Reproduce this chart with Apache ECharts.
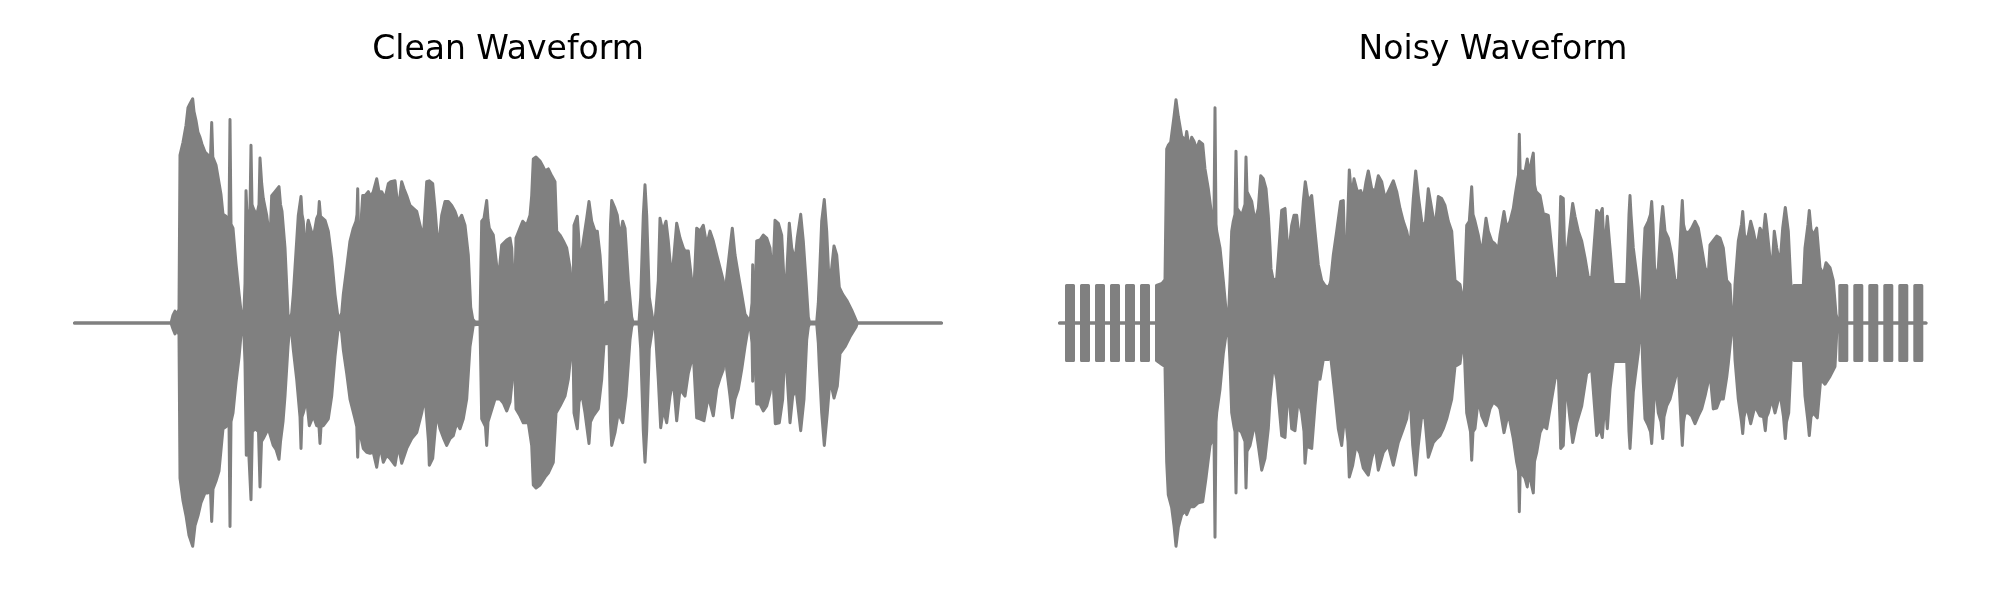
<!DOCTYPE html>
<html><head><meta charset="utf-8">
<script src="https://cdn.jsdelivr.net/npm/echarts@6/dist/echarts.min.js"></script>
<style>html,body{margin:0;padding:0;background:#fff}#c{width:2000px;height:600px}</style>
</head><body><div id="c"></div>
<script>
// Panel titles
const titles = ["Clean Waveform", "Noisy Waveform"];

// Envelope of the clean waveform: [time, amplitude] (upper and lower edges)
const cleanUpper = [[1.5,0],[98,0],[100,8],[102,12],[104,8],[106,14],[107,170],[110,183],[113,200],[115,218],[117,222],[119.7,227],[121,214],[123,205],[125,193],[127,188],[129,181],[132,173],[135,170],[137.5,168],[138.7,203],[139.8,168],[141,168],[143,160],[145,159],[148,130],[150,110],[153,108],[156,104],[157,206],[158,100],[160,96],[163,60],[166,30],[168.7,6],[170.5,1],
[172,40],[173,134],[174,110],[175.3,109],[177,115],[178,180],[179,120],[180.3,116],[183.7,109],[186,120],[187,167],[188.7,141],[190.3,126],[193.7,109],[197,83],[198.7,129],[202,133],[206,138],[207.5,120],[209,113],[212,76],[215,9],[217,1],
[218.7,10],[220.3,29],[222,56],[225.3,109],[227,110],[228,128],[229,110],[230.3,103],[233,63],[234.5,100],[235.3,104],[237,106],[240.3,86],[243.7,106],[245.5,110],[246.3,123],[247.5,108],[248.7,106],[252,104],[255.3,93],[258.7,66],[262,29],[265.3,3],[266.5,1],
[268.7,10],[270.3,29],[273.7,56],[277,83],[280.3,96],[283,103],[284,110],[284.7,136],[285.5,95],[287,43],[288.5,110],[289.7,129],[292,129],[295.3,133],[297.7,128],[300.3,133],[303.7,146],[306,133],[308.7,133],[312,126],[315.3,141],[317.7,143],[322,144],[325.3,114],[328.7,143],[331,136],[333.7,129],[337,119],[340.3,116],[343.7,113],[347,99],[350.3,86],[353.7,143],[356.3,144],[359.7,141],[362,116],[365.3,73],[368.7,109],[372,123],[375.3,123],[378.7,119],[382,113],[385.3,103],[388.7,109],[392,99],[395.3,69],[397.7,16],[399.7,4],[402,1],[407,1],
[408.7,103],[411,106],[413.7,124],[415,105],[416.3,96],[420.3,89],[425.3,43],[428.7,79],[433.7,84],[437,86],[438.7,76],[440.3,40],[441,20],[442,40],[443,86],[447,96],[449.7,103],[453.7,99],[457,109],[458.7,129],[460.3,166],[463,168],[467,164],[469.7,159],[472,154],[475.3,156],[478.7,149],[482,143],[483.7,93],[487,89],[490.3,83],[493.7,76],[497,56],[498.7,29],[499.7,2],
[501,99],[503,100],[504.3,108],[505.5,90],[507,59],[510.3,83],[513.7,106],[516,123],[518.7,103],[522,93],[524.3,93],[527,69],[529.7,29],[531,6],[533.7,21],[536,15],
[537.5,100],[538.7,124],[542,116],[544.3,109],[547,86],[549.7,103],[552,96],[555.3,43],[558.7,6],[560,1],[566,1],
[567.7,26],[570.3,109],[572,140],[573.7,109],[576.3,26],[579.7,4],[582,1],
[585.3,43],[587,106],[589.7,93],[593,103],[595.3,83],[598.7,43],[601,69],[603.7,101],[607,86],[610.3,76],[612,73],[615.3,73],[618.7,43],[621,36],[623.7,96],[627,93],[630.3,99],[633.7,79],[637,93],[640.3,83],[643.7,69],[647,56],[650.3,43],[652,20],[653.7,46],[657,76],[659.3,96],[662,69],[665.3,49],[668.7,29],[672,9],[675.3,4],[677,1],
[679,20],[679.7,59],[680.5,20],[682,10],
[683,60],[683.7,83],[687,84],[690.3,89],[693.7,86],[697,76],[699.7,43],[702,104],[705.3,101],[708.7,89],[711,43],[712,40],[713.7,49],[716.3,101],[718.7,76],[722,63],[724.3,86],[727.7,110],[730.3,83],[733,43],[735.3,6],[736.5,1],[743.7,1],
[745.3,20],[746.3,43],[748.7,103],[751.3,125],[753.7,93],[756.3,36],[758.7,56],[761,78],[763.7,69],[766.3,36],[769.7,29],[773.7,23],[778.7,13],[783,3],[784.3,0],[868.5,0]];

const cleanLower = [[1.5,0],[98,0],[100,-6],[102,-11],[104,-6],[106,-12],[107,-157],[110,-180],[113,-195],[116,-215],[119.7,-226],[122,-205],[125,-195],[128,-182],[132,-172],[135,-172],[137.5,-170],[138.7,-201],[140,-168],[143,-160],[146,-150],[150,-107],[153,-105],[156,-100],[157,-206],[158,-100],[160,-91],[163,-60],[166,-35],[168.7,-4],[170.5,-1],
[172,-40],[173.3,-134],[174.5,-105],[176,-105],[178,-179],[179.3,-110],[182,-107],[185.5,-110],[187,-166],[188.5,-120],[190.3,-117],[195.3,-107],[200.3,-124],[203,-128],[206,-138],[207.5,-120],[210,-100],[212,-74],[215,-24],[217,-1],
[218.7,-10],[220.3,-27],[223.7,-57],[227,-95],[228,-127],[229,-95],[230.3,-91],[233.7,-77],[236.3,-104],[240.3,-94],[243.7,-104],[246,-105],[247,-122],[248,-105],[250.3,-104],[255.3,-97],[258.7,-74],[262,-34],[265.3,-4],[266.5,-1],
[268.7,-10],[270.3,-27],[273.7,-51],[277,-77],[282,-97],[283.8,-105],[284.7,-136],[285.6,-105],[287,-104],[290.3,-127],[293.7,-131],[297,-132],[300.3,-131],[303.7,-146],[307,-124],[310.3,-141],[313.7,-134],[317,-137],[322,-144],[325.3,-124],[328.7,-142],[333.7,-127],[338.7,-117],[343.7,-111],[348.7,-91],[352,-74],[355.5,-120],[356.3,-144],[359.7,-137],[363.7,-91],[367,-107],[370.3,-116],[373.7,-124],[377,-117],[380.3,-114],[383.7,-101],[387,-107],[390.3,-97],[393.7,-77],[397,-24],[400.3,-2],[407,-1],
[408.7,-97],[412.5,-105],[413.7,-124],[415,-100],[417,-101],[422,-77],[427,-77],[430.3,-81],[433.7,-89],[437,-80],[439,-60],[440.3,-24],[441.5,-40],[443,-87],[447,-94],[450.3,-101],[455.3,-101],[458.7,-124],[460.3,-164],[463,-167],[467,-164],[472,-156],[475.3,-152],[480.3,-141],[483,-91],[487,-84],[492,-74],[495.3,-57],[498.7,-24],[499.7,-2],
[501,-91],[504.3,-107],[506,-80],[508.7,-71],[512,-91],[516,-122],[517.5,-100],[520.3,-94],[525.3,-87],[528.7,-57],[531,-21],[533.7,-21],[536,-15],
[537.5,-100],[538.7,-124],[542,-111],[545.3,-91],[549.7,-101],[553,-74],[557,-17],[558.7,-4],[560,-1],[566,-1],
[567.7,-26],[570.3,-109],[572,-141],[573.7,-109],[576.3,-26],[579.7,-4],[582,-1],
[585.3,-57],[587.7,-106],[590.3,-87],[593.7,-101],[597,-74],[600.3,-57],[603.7,-99],[607,-67],[612,-74],[615.3,-51],[620.3,-31],[623.7,-96],[627,-97],[631,-99],[635.3,-74],[640.3,-94],[643.7,-67],[647,-56],[650.3,-47],[652,-20],[653.7,-47],[657,-74],[659.3,-96],[662,-77],[665.3,-67],[668.7,-47],[672,-24],[675.3,-4],[677,-1],
[679,-20],[679.7,-59],[680.5,-20],[682,-10],
[683,-60],[683.7,-82],[687,-82],[690.3,-89],[693.7,-84],[697,-71],[699.7,-51],[702.3,-102],[706.3,-101],[709.7,-77],[712,-24],[713.7,-47],[717,-101],[719.7,-74],[723,-67],[727.7,-109],[731,-77],[733.7,-17],[735.3,-4],[736.5,-1],[743.7,-1],
[745.3,-20],[746.3,-44],[748.7,-91],[751.3,-124],[754.3,-91],[757,-57],[761,-76],[764.3,-64],[767,-31],[772,-24],[777,-14],[783,-4],[784.3,0],[868.5,0]];

// Envelope of the noisy waveform (periodic noise bursts at both ends)
const noisyUpper = [[1.5,0],[8.5,0],[8.5,38],[15.5,38],[15.5,0],[23.5,0],[23.5,38],[30.5,38],[30.5,0],[38.5,0],[38.5,38],[45.5,38],[45.5,0],[53.5,0],[53.5,38],[60.5,38],[60.5,0],[68.5,0],[68.5,38],[75.5,38],[75.5,0],[83.5,0],[83.5,38],[90.5,38],[90.5,0],[98.5,0],[98.5,38],[104,40],[107,44],[108,46],[108.7,176],[110.3,180],[112.7,183],[116,209],[118,226],[120.3,209],[123.7,189],[127.5,185],[128.7,194],[130,185],[131.3,176],[133.7,188],[136,184],[138.7,176],[141.3,184],[144.7,181],[147,156],[150.3,136],[153.7,109],[156,110],[157,218],[158,100],[158.7,93],[162,76],[165.3,43],[168.7,6],[170.3,2],
[172,43],[173.7,93],[175.3,103],[177,110],[178,174],[179,116],[180.3,116],[183.7,109],[187,120],[188,168],[189,133],[190.3,133],[193.7,123],[197,103],[200.3,116],[202.7,149],[205.3,146],[208,136],[210.3,109],[212,78],[213,55],[215.3,43],[218.7,45],[220.3,66],[223.7,114],[227,116],[230.3,66],[233.7,99],[236,109],[238.7,109],[242,79],[245.3,123],[247.3,143],[250.3,123],[253.7,129],[257,93],[260.3,59],[263.7,43],[267,38],[270.3,36],[272,40],[272.7,43],[275.3,69],[278.7,93],[282.7,123],[285.3,124],[287,60],[288,36],[289.5,100],[291.3,155],[293.7,126],[296,146],[299.3,133],[302.7,134],[305.3,126],[308,143],[310.3,154],[313.7,136],[317,133],[320.3,149],[323.7,143],[327,126],[330.3,133],[335.3,144],[338.7,133],[342,116],[345.3,103],[348.7,93],[352,76],[355.3,126],[357.7,154],[360.3,129],[363.7,103],[367,96],[370.3,136],[373.7,116],[377,96],[380.3,128],[383.7,126],[387,119],[390.3,103],[393.7,93],[397,43],[402,39],[404.3,26],[405.3,2],[407,2],
[408.7,99],[411.3,103],[413.7,138],[415,110],[417,103],[420.3,89],[423.7,69],[425.3,69],[428,106],[430.3,93],[433.7,83],[437,80],[440.3,75],[442,89],[446,113],[448.7,96],[452,103],[455.3,116],[457,128],[459.3,143],[460.5,150],[461.3,191],[462.2,150],[463.7,154],[467,153],[469.3,166],[470.5,150],[472,151],[475.3,172],[476.5,140],[478,133],[482,129],[485.3,111],[490.3,109],[493.7,76],[497,46],[500.3,43],[502,100],[502.7,128],[505.3,126],[507,56],[510.3,83],[514.7,121],[517,108],[520.3,93],[523.7,83],[527,66],[530.3,46],[533.7,46],[538.7,114],[542,109],[544.3,116],[546.3,69],[549.3,108],[552,76],[554.7,43],[555.3,39],[568.7,39],[569.3,56],[571,110],[572,129],[573,110],[575.3,76],[580.3,36],[582,9],[583.5,3],
[585.3,60],[587,96],[590.3,103],[592.5,110],[593.7,123],[595,100],[597,43],[600.3,56],[603,100],[604.7,118],[607,93],[610.3,86],[613.7,69],[617,43],[620.3,43],[623,100],[624.3,124],[625.5,100],[627,93],[630.3,91],[633.7,96],[637,103],[640.3,96],[643.7,76],[647,56],[650.3,49],[652,79],[653.7,79],[658.7,88],[662,86],[665.3,76],[668.7,43],[672,39],[673.7,9],[675,3],
[676,10],[677,39],[680.3,83],[683.5,100],[684.7,113],[686,95],[687,83],[690.3,89],[692.7,103],[695.3,93],[698.7,76],[702,96],[705.3,89],[707.3,110],[708.5,100],[710.3,99],[713.7,49],[716.3,93],[718.7,76],[722,59],[724.7,96],[727.3,117],[730.3,93],[732.7,43],[734.7,9],[735.5,5],[736,38],[745.3,38],[747,76],[750,100],[751.3,114],[753,95],[755.3,89],[758.7,96],[762,56],[765.3,49],[768,61],[772,56],[775.3,43],[778,9],[779.5,3],[781.8,3],[781.8,38],[788.8,38],[788.8,0],[796.8,0],[796.8,38],[803.8,38],[803.8,0],[811.8,0],[811.8,38],[818.8,38],[818.8,0],[826.8,0],[826.8,38],[833.8,38],[833.8,0],[841.8,0],[841.8,38],[848.8,38],[848.8,0],[856.8,0],[856.8,38],[863.8,38],[863.8,0],[868,0]];

const noisyLower = [[1.5,0],[8.5,0],[8.5,-38],[15.5,-38],[15.5,0],[23.5,0],[23.5,-38],[30.5,-38],[30.5,0],[38.5,0],[38.5,-38],[45.5,-38],[45.5,0],[53.5,0],[53.5,-38],[60.5,-38],[60.5,0],[68.5,0],[68.5,-38],[75.5,-38],[75.5,0],[83.5,0],[83.5,-38],[90.5,-38],[90.5,0],[98.5,0],[98.5,-38],[104,-42],[107,-44],[108,-46],[108.7,-141],[110.3,-174],[113.7,-187],[116,-205],[118,-226],[120.3,-207],[123.7,-194],[127.5,-190],[128.7,-194],[132,-186],[136,-186],[140.3,-182],[144.7,-181],[148,-157],[152,-124],[156,-115],[157,-217],[158,-100],[158.7,-91],[162,-67],[165.3,-31],[168.7,-7],[170.3,-2],
[172,-40],[173.7,-91],[176,-105],[177,-110],[178,-172],[179,-110],[180.3,-107],[183.7,-111],[187,-120],[188,-167],[189,-130],[192,-124],[197,-101],[200.3,-124],[203.7,-149],[207,-137],[210.3,-107],[212,-77],[213.7,-60],[215.3,-41],[218.7,-57],[223.7,-114],[227,-116],[230.3,-64],[233.7,-107],[237,-109],[240.3,-77],[243.7,-91],[246,-110],[247,-142],[248.5,-125],[250.3,-124],[253.7,-127],[257,-84],[260.3,-47],[262,-57],[265.3,-37],[270.3,-37],[272.7,-34],[277,-74],[280.3,-107],[283.7,-124],[287,-91],[290,-120],[291.3,-156],[294.7,-144],[298,-124],[302,-132],[305.3,-147],[310.3,-154],[313.7,-137],[317,-124],[320.3,-149],[325.3,-131],[330.3,-124],[335.3,-144],[340.3,-121],[345.3,-107],[348.7,-97],[352,-71],[354.7,-124],[357.7,-154],[360.3,-124],[363.7,-94],[367,-97],[370.3,-136],[375.3,-121],[378.7,-117],[382,-114],[385.3,-107],[388.7,-97],[393.7,-77],[397,-44],[402,-41],[404.3,-24],[405.3,-2],[407,-2],
[408.7,-91],[412.5,-110],[413.7,-139],[415,-110],[417,-107],[420.3,-77],[423.7,-94],[428,-104],[432,-87],[435.3,-80],[440.3,-84],[442,-87],
[446,-111],[450.3,-91],[455.3,-117],[458.7,-141],[460.5,-150],[461.3,-191],[462.2,-150],[463.7,-151],[467,-157],[469.3,-166],[470.5,-150],[472,-151],[475.3,-172],[476.5,-140],[478.7,-131],[482,-111],[485.3,-104],[488.7,-107],[492,-87],[497,-57],[500.3,-51],[502,-100],[502.7,-127],[505.3,-124],[508,-57],[511.3,-91],[514.7,-121],[518.7,-101],[523.7,-84],[528.7,-51],[533.7,-47],[538.7,-114],[542,-107],[544.3,-116],[547,-77],[549.3,-107],[552,-67],[554.7,-44],[555.3,-39],[568.7,-39],[569.3,-56],[571,-110],[572,-127],[573,-110],[575.3,-70],[580.3,-30],[582,-8],[583.5,-3],
[585.3,-60],[587,-97],[590.3,-104],[592.5,-110],[593.7,-122],[595,-100],[597,-57],[600.3,-91],[603,-100],[604.7,-117],[606,-95],[608.7,-84],[612,-77],[615.3,-64],[620.3,-44],[623,-100],[624.3,-124],[625.5,-100],[627,-91],[630.3,-91],[633.7,-94],[637,-102],[640.3,-94],[643.7,-87],[647,-74],[652,-51],[655.3,-87],[658.7,-86],[662,-77],[665.3,-77],[668.7,-55],[670.3,-41],[673.7,-7],[675,-3],
[676,-10],[677,-37],[680.3,-77],[683.5,-100],[684.7,-112],[686,-95],[688.7,-84],[692.7,-102],[697,-84],[702,-94],[705.5,-95],[707.3,-109],[708.5,-95],[710.3,-91],[713.7,-77],[717,-91],[722,-71],[725.5,-95],[727.3,-117],[728.5,-100],[730.7,-91],[733.7,-24],[735.5,-5],[736,-38],[745.3,-38],[747,-74],[750,-100],[751.3,-114],[753,-95],[755.3,-91],[759.3,-96],[762.7,-57],[767,-62],[772,-54],[777,-44],[778.7,-11],[779.5,-3],[781.8,-3],[781.8,-38],[788.8,-38],[788.8,0],[796.8,0],[796.8,-38],[803.8,-38],[803.8,0],[811.8,0],[811.8,-38],[818.8,-38],[818.8,0],[826.8,0],[826.8,-38],[833.8,-38],[833.8,0],[841.8,0],[841.8,-38],[848.8,-38],[848.8,0],[856.8,0],[856.8,-38],[863.8,-38],[863.8,0],[868,0]];

const GRAY = '#808080';
function wave(data, idx) {
  return {
    type: 'line', data: data, xAxisIndex: idx, yAxisIndex: idx,
    symbol: 'none', clip: false, silent: true,
    lineStyle: { color: GRAY, width: 3, cap: 'round', join: 'round' },
    areaStyle: { color: GRAY, opacity: 1, origin: 0 }
  };
}
const chart = echarts.init(document.getElementById('c'), null, { renderer: 'canvas' });
const axX = i => ({ type: 'value', gridIndex: i, min: 0, max: 870, show: false });
const axY = i => ({ type: 'value', gridIndex: i, min: -243, max: 243, show: false });
const titleStyle = { fontFamily: 'DejaVu Sans', fontSize: 33, fontWeight: 'normal', color: '#000' };
chart.setOption({
  animation: false,
  backgroundColor: '#ffffff',
  title: [
    { text: titles[0], left: 503, top: 29, textAlign: 'center', textStyle: titleStyle },
    { text: titles[1], left: 1488, top: 29, textAlign: 'center', textStyle: titleStyle }
  ],
  grid: [
    { left: 73, width: 870, top: 83, height: 480 },
    { left: 1058, width: 870, top: 83, height: 480 }
  ],
  xAxis: [axX(0), axX(1)],
  yAxis: [axY(0), axY(1)],
  series: [wave(cleanUpper, 0), wave(cleanLower, 0), wave(noisyUpper, 1), wave(noisyLower, 1)]
});
</script>
</body></html>
